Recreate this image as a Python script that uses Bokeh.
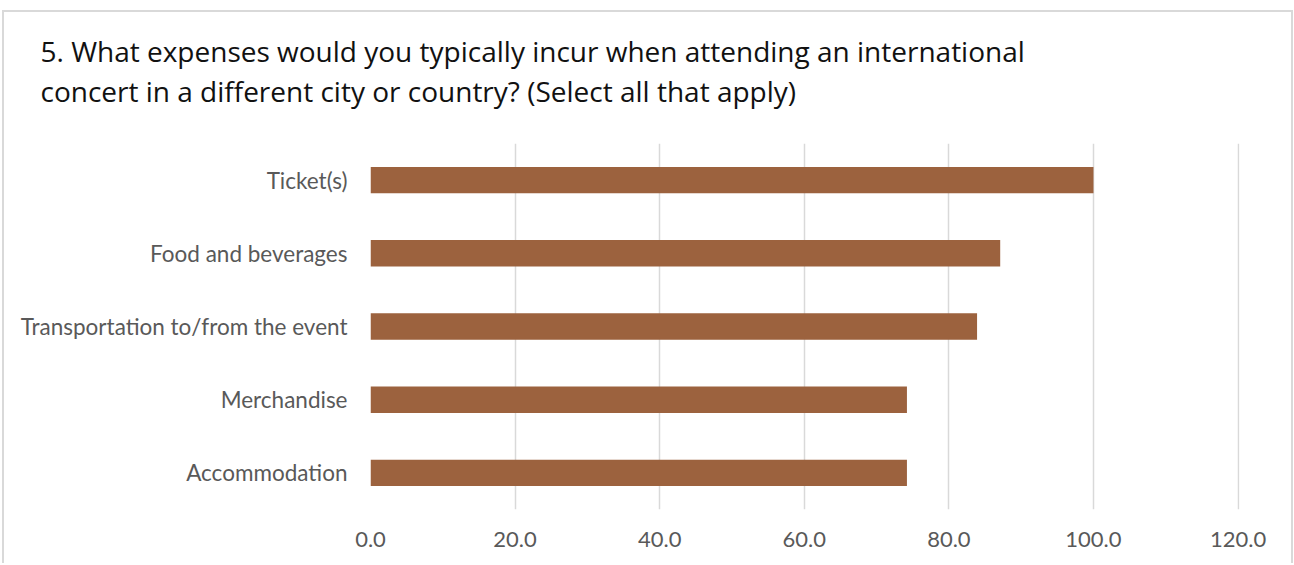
from bokeh.plotting import figure
from bokeh.models import FactorRange, Range1d, FixedTicker, NumeralTickFormatter, Title
from bokeh.embed import file_html
from bokeh.resources import INLINE

# ---- data ----
categories = ["Ticket(s)", "Food and beverages", "Transportation to/from the event",
              "Merchandise", "Accommodation"]
values = [100.0, 87.1, 83.9, 74.2, 74.2]
x_ticks = [0, 20, 40, 60, 80, 100, 120]
title_line1 = "5. What expenses would you typically incur when attending an international"
title_line2 = "concert in a different city or country? (Select all that apply)"

FONT = "Lato"
TITLE_FONT = "Open Sans"
BAR_COLOR = "#9C623E"
GRID_COLOR = "#D9D9D9"
LABEL_COLOR = "#595959"

p = figure(
    width=1291, height=553,
    y_range=FactorRange(factors=list(reversed(categories))),
    x_range=Range1d(0, 120.2),
    output_backend="svg", toolbar_location=None, tools="",
    margin=(10, 0, 0, 2),
    styles={"border-top": "2px solid #D9D9D9", "border-left": "2px solid #D9D9D9",
            "border-right": "2px solid #D9D9D9"},
)
p.title = None
p.min_border_left = 366
p.min_border_right = 56
p.min_border_top = 131
p.min_border_bottom = 56
p.outline_line_color = None
p.background_fill_color = "white"
p.border_fill_color = "white"

p.hbar(y=categories, right=values, left=0, height=0.36, color=BAR_COLOR, line_color=None)

# grid
p.ygrid.grid_line_color = None
p.xgrid.grid_line_color = GRID_COLOR
p.xgrid.grid_line_width = 1.5
p.xgrid.ticker = FixedTicker(ticks=x_ticks)

# x axis
p.xaxis.ticker = FixedTicker(ticks=x_ticks)
p.xaxis.formatter = NumeralTickFormatter(format="0.0")
p.xaxis.axis_line_color = None
p.xaxis.major_tick_line_color = None
p.xaxis.minor_tick_line_color = None
p.xaxis.major_tick_out = 0
p.xaxis.major_tick_in = 0
p.xaxis.major_label_standoff = 22
p.xaxis.major_label_text_font = FONT
p.xaxis.major_label_text_font_size = "22px"
p.xaxis.major_label_text_color = LABEL_COLOR

# y axis
p.yaxis.axis_line_color = None
p.yaxis.major_tick_line_color = None
p.yaxis.minor_tick_line_color = None
p.yaxis.major_tick_out = 0
p.yaxis.major_tick_in = 0
p.yaxis.major_label_standoff = 23
p.yaxis.major_label_text_font = FONT
p.yaxis.major_label_text_font_size = "22.5px"
p.yaxis.major_label_text_color = LABEL_COLOR

# two-line title; panels stack upward from the plot frame
# spacer between second title line and the plot area
p.add_layout(Title(text=" ", text_font_size="1px", standoff=31), "above")
p.add_layout(Title(text=title_line2, align="left", offset=-330, standoff=0,
                   text_font=TITLE_FONT, text_font_size="28px", text_font_style="normal",
                   text_color="#111111"), "above")
p.add_layout(Title(text=title_line1, align="left", offset=-330, standoff=0,
                   text_font=TITLE_FONT, text_font_size="28px", text_font_style="normal",
                   text_color="#111111"), "above")

open("out.html", "w").write(file_html(p, INLINE))
